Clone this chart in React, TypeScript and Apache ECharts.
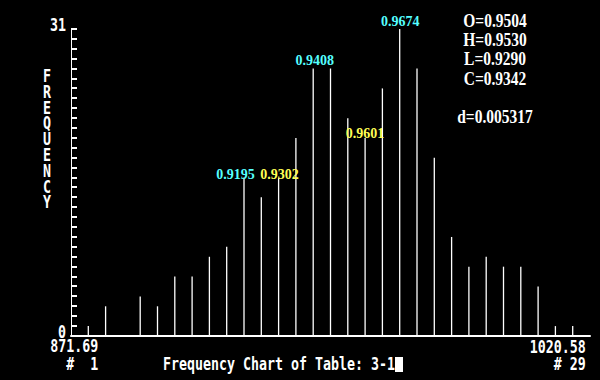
import React, { useEffect, useRef } from "react";
import * as echarts from "echarts";

// ---- data ----
const bins = [1, 2, 3, 4, 5, 6, 7, 8, 9, 10, 11, 12, 13, 14, 15, 16, 17, 18, 19, 20, 21, 22, 23, 24, 25, 26, 27, 28, 29];
const counts = [1, 3, 0, 4, 3, 6, 6, 8, 9, 16, 14, 16, 20, 27, 27, 22, 20, 25, 31, 27, 18, 10, 7, 8, 7, 7, 5, 1, 1];
const yMax = 31;
const yTickLabels = [0, 31];
const rangeLabels = ["871.69", "1020.58"];
const binLabels = ["#  1", "# 29"];
const annotBins = [10, 12, 14, 17, 19];
const annotTexts = ["0.9195", "0.9302", "0.9408", "0.9601", "0.9674"];
const annotKinds = ["cyan", "yellow", "cyan", "yellow", "cyan"];
const statsLines = ["O=0.9504", "H=0.9530", "L=0.9290", "C=0.9342"];
const dLine = "d=0.005317";
const yAxisTitle = "FREQUENCY";
const chartTitle = "Frequency Chart of Table: 3-1";

export default function App() {
  const ref = useRef<HTMLDivElement>(null);
  useEffect(() => {
    document.body.style.margin = "0";
    document.body.style.background = "#000";
    const chart = echarts.init(ref.current!, null, { renderer: "svg" });
    const monoFont = "'DejaVu Sans Mono', monospace";
    const serifFont = "'Liberation Serif', 'DejaVu Serif', serif";
    const colors: Record<string, string> = { cyan: "#55FFFF", yellow: "#FFFF55" };
    const annotOffsets: Record<number, number[]> = {
      10: [-8.5, 4],
      12: [1, 4],
      14: [1.5, -1],
      17: [0, 3],
      19: [0.5, -1],
    };

    const data = bins.map((b, i) => {
      const k = annotBins.indexOf(b);
      const item: any = { value: [b, counts[i]] };
      if (k >= 0) {
        item.label = {
          show: true,
          position: "top",
          distance: 0,
          offset: annotOffsets[b],
          formatter: annotTexts[k],
          color: colors[annotKinds[k]],
          fontFamily: serifFont,
          fontWeight: "bold",
          fontSize: 14,
        };
      }
      return item;
    });

    chart.setOption({
      animation: false,
      backgroundColor: "#000",
      grid: { left: 71, right: 10, top: 29, bottom: 44 },
      xAxis: {
        type: "value",
        min: 0,
        max: 30,
        axisLine: { show: true, onZero: false, lineStyle: { color: "#fff", width: 2 } },
        axisTick: { show: false },
        axisLabel: { show: false },
        splitLine: { show: false },
      },
      yAxis: {
        type: "value",
        min: 0,
        max: yMax,
        interval: 1,
        axisLine: { show: true, onZero: false, lineStyle: { color: "#fff", width: 1 } },
        axisTick: { show: false },
        axisLabel: { show: false },
        splitLine: { show: false },
      },
      series: [
        {
          type: "bar",
          data,
          barWidth: 1.3,
          itemStyle: { color: "#fff" },
          label: { show: false },
        },
      ],
    });

    const px = (x: number, y: number) => chart.convertToPixel({ gridIndex: 0 }, [x, y]) as number[];
    const mono = (text: string, x: number, y: number, align: string, extra: any = {}) => ({
      type: "text",
      x,
      y,
      scaleY: 1.35,
      style: {
        text,
        fill: "#fff",
        fontFamily: monoFont,
        fontWeight: "bold",
        fontSize: 13.3,
        align,
        textAlign: align,
        verticalAlign: "middle",
        textVerticalAlign: "middle",
        ...extra,
      },
    });
    const serif = (text: string, x: number, y: number) => ({
      type: "text",
      x,
      y,
      scaleY: 1.2,
      style: {
        text,
        fill: "#fff",
        fontFamily: serifFont,
        fontWeight: "bold",
        fontSize: 15.5,
        align: "center",
        textAlign: "center",
        verticalAlign: "middle",
        textVerticalAlign: "middle",
      },
    });

    const elements: any[] = [];
    // y-axis tick marks at every integer value, placed through the axis scale
    for (let v = 0; v <= yMax; v++) {
      const p = px(0, v);
      const y = Math.round(p[1]);
      elements.push({
        type: "line",
        shape: { x1: p[0], y1: y, x2: p[0] + 6, y2: y },
        style: { stroke: "#ffffff", lineWidth: 2 },
        z: 100,
      });
    }
    yTickLabels.forEach((v) => {
      const p = px(0, v);
      elements.push(mono(String(v), p[0] - 5, p[1] - 4, "right"));
    });
    const pFirst = px(bins[0], 0);
    const pLast = px(bins[bins.length - 1], 0);
    elements.push(mono(rangeLabels[0], pFirst[0] + 10, 346, "right"));
    elements.push(mono(binLabels[0], pFirst[0] + 10, 363.5, "right"));
    elements.push(mono(rangeLabels[1], pLast[0] + 13, 346.5, "right"));
    elements.push(mono(binLabels[1], pLast[0] + 13, 363.5, "right"));
    elements.push(mono(chartTitle, 163, 364, "left"));
    elements.push({ type: "rect", shape: { x: 395, y: 357, width: 8, height: 15 }, style: { fill: "#fff" } });
    elements.push(
      mono(yAxisTitle.split("").join("\n"), 47, 139, "center", { lineHeight: 15.8 / 1.35 })
    );
    const statY = [21.5, 40, 59.5, 79];
    statsLines.forEach((t, i) => elements.push(serif(t, 495, statY[i])));
    elements.push(serif(dLine, 495, 117));

    chart.setOption({ graphic: { elements } });

    return () => chart.dispose();
  }, []);
  return <div ref={ref} style={{ width: 600, height: 380, background: "#000" }} />;
}
